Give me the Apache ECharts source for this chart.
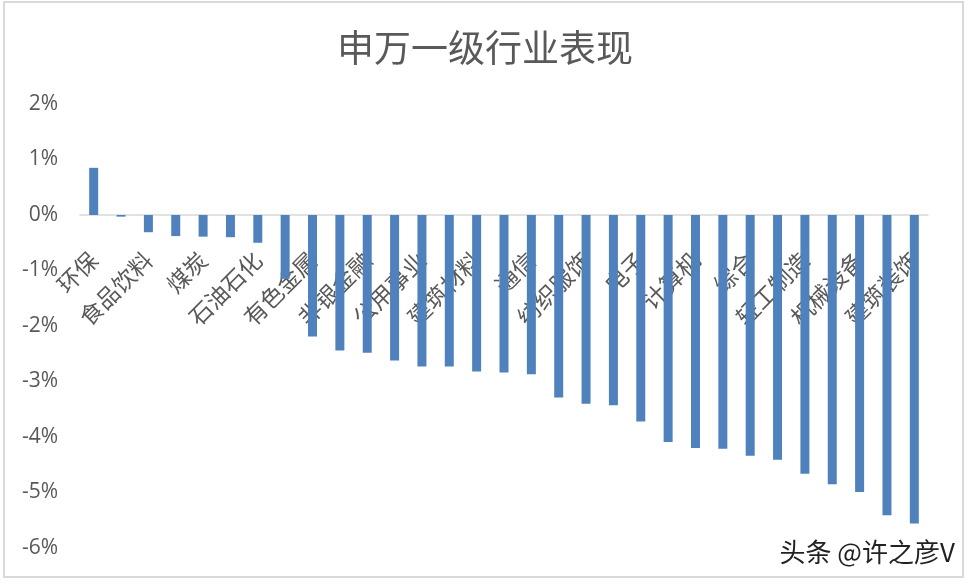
<!DOCTYPE html>
<html>
<head>
<meta charset="utf-8">
<script src="https://cdn.jsdelivr.net/npm/echarts@6/dist/echarts.min.js"></script>
<style>html,body{margin:0;padding:0;background:#fff;}#c{width:970px;height:584px;}</style>
</head>
<body>
<div id="c"></div>
<script>
var categories = ['环保','银行','食品饮料','美容护理','煤炭','农林牧渔','石油石化','钢铁','有色金属','医药生物','非银金融','家用电器','公用事业','交通运输','建筑材料','基础化工','通信','房地产','纺织服饰','商贸零售','电子','社会服务','计算机','传媒','综合','汽车','轻工制造','电力设备','机械设备','国防军工','建筑装饰'];
var values = [0.85,-0.03,-0.31,-0.38,-0.39,-0.40,-0.50,-1.15,-2.19,-2.44,-2.48,-2.62,-2.73,-2.73,-2.82,-2.84,-2.87,-3.29,-3.40,-3.43,-3.72,-4.09,-4.20,-4.21,-4.34,-4.41,-4.66,-4.85,-4.99,-5.41,-5.56];
var titleText = '申万一级行业表现';
var watermark = '头条 @许之彦V';

var gridTop = 104, gridBottom = 36, H = 584;
var plotH = H - gridTop - gridBottom;
var chart = echarts.init(document.getElementById('c'));
chart.setOption({
  animation: false,
  backgroundColor: '#fff',
  title: {
    text: titleText, left: 'center', top: 24,
    textStyle: {fontFamily: 'Noto Sans CJK SC', fontSize: 37, fontWeight: 'normal', color: '#595959'}
  },
  grid: {left: 80, right: 42, top: gridTop, bottom: gridBottom, containLabel: false, outerBoundsMode: 'none'},
  xAxis: {
    type: 'category', data: categories, position: 'bottom', z: 0,
    offset: -plotH * 6 / 8,
    axisLine: {onZero: false, lineStyle: {color: '#d9d9d9', width: 1.5}},
    axisTick: {show: false},
    axisLabel: {interval: 1, rotate: 45, margin: 41, fontFamily: 'Noto Sans CJK SC', fontSize: 23, color: '#595959'}
  },
  yAxis: {
    type: 'value', min: -6, max: 2, interval: 1,
    axisLine: {show: false}, axisTick: {show: false},
    splitLine: {show: false},
    axisLabel: {formatter: '{value}%', margin: 22, fontFamily: 'Open Sans', fontSize: 21, color: '#595959'}
  },
  series: [{
    type: 'bar', data: values, barWidth: 9, z: 10, zlevel: 1,
    itemStyle: {color: '#4F81BD'}
  }],
  graphic: [
    {type: 'rect', shape: {x: 4, y: 2, width: 959, height: 575}, style: {fill: 'none', stroke: '#d9d9d9', lineWidth: 2}, silent: true},
    {type: 'text', left: 779, top: 539, style: {text: watermark, fontFamily: 'Noto Sans CJK SC', fontSize: 26, fill: '#222', stroke: '#fff', lineWidth: 1}}
  ]
});
</script>
</body>
</html>
